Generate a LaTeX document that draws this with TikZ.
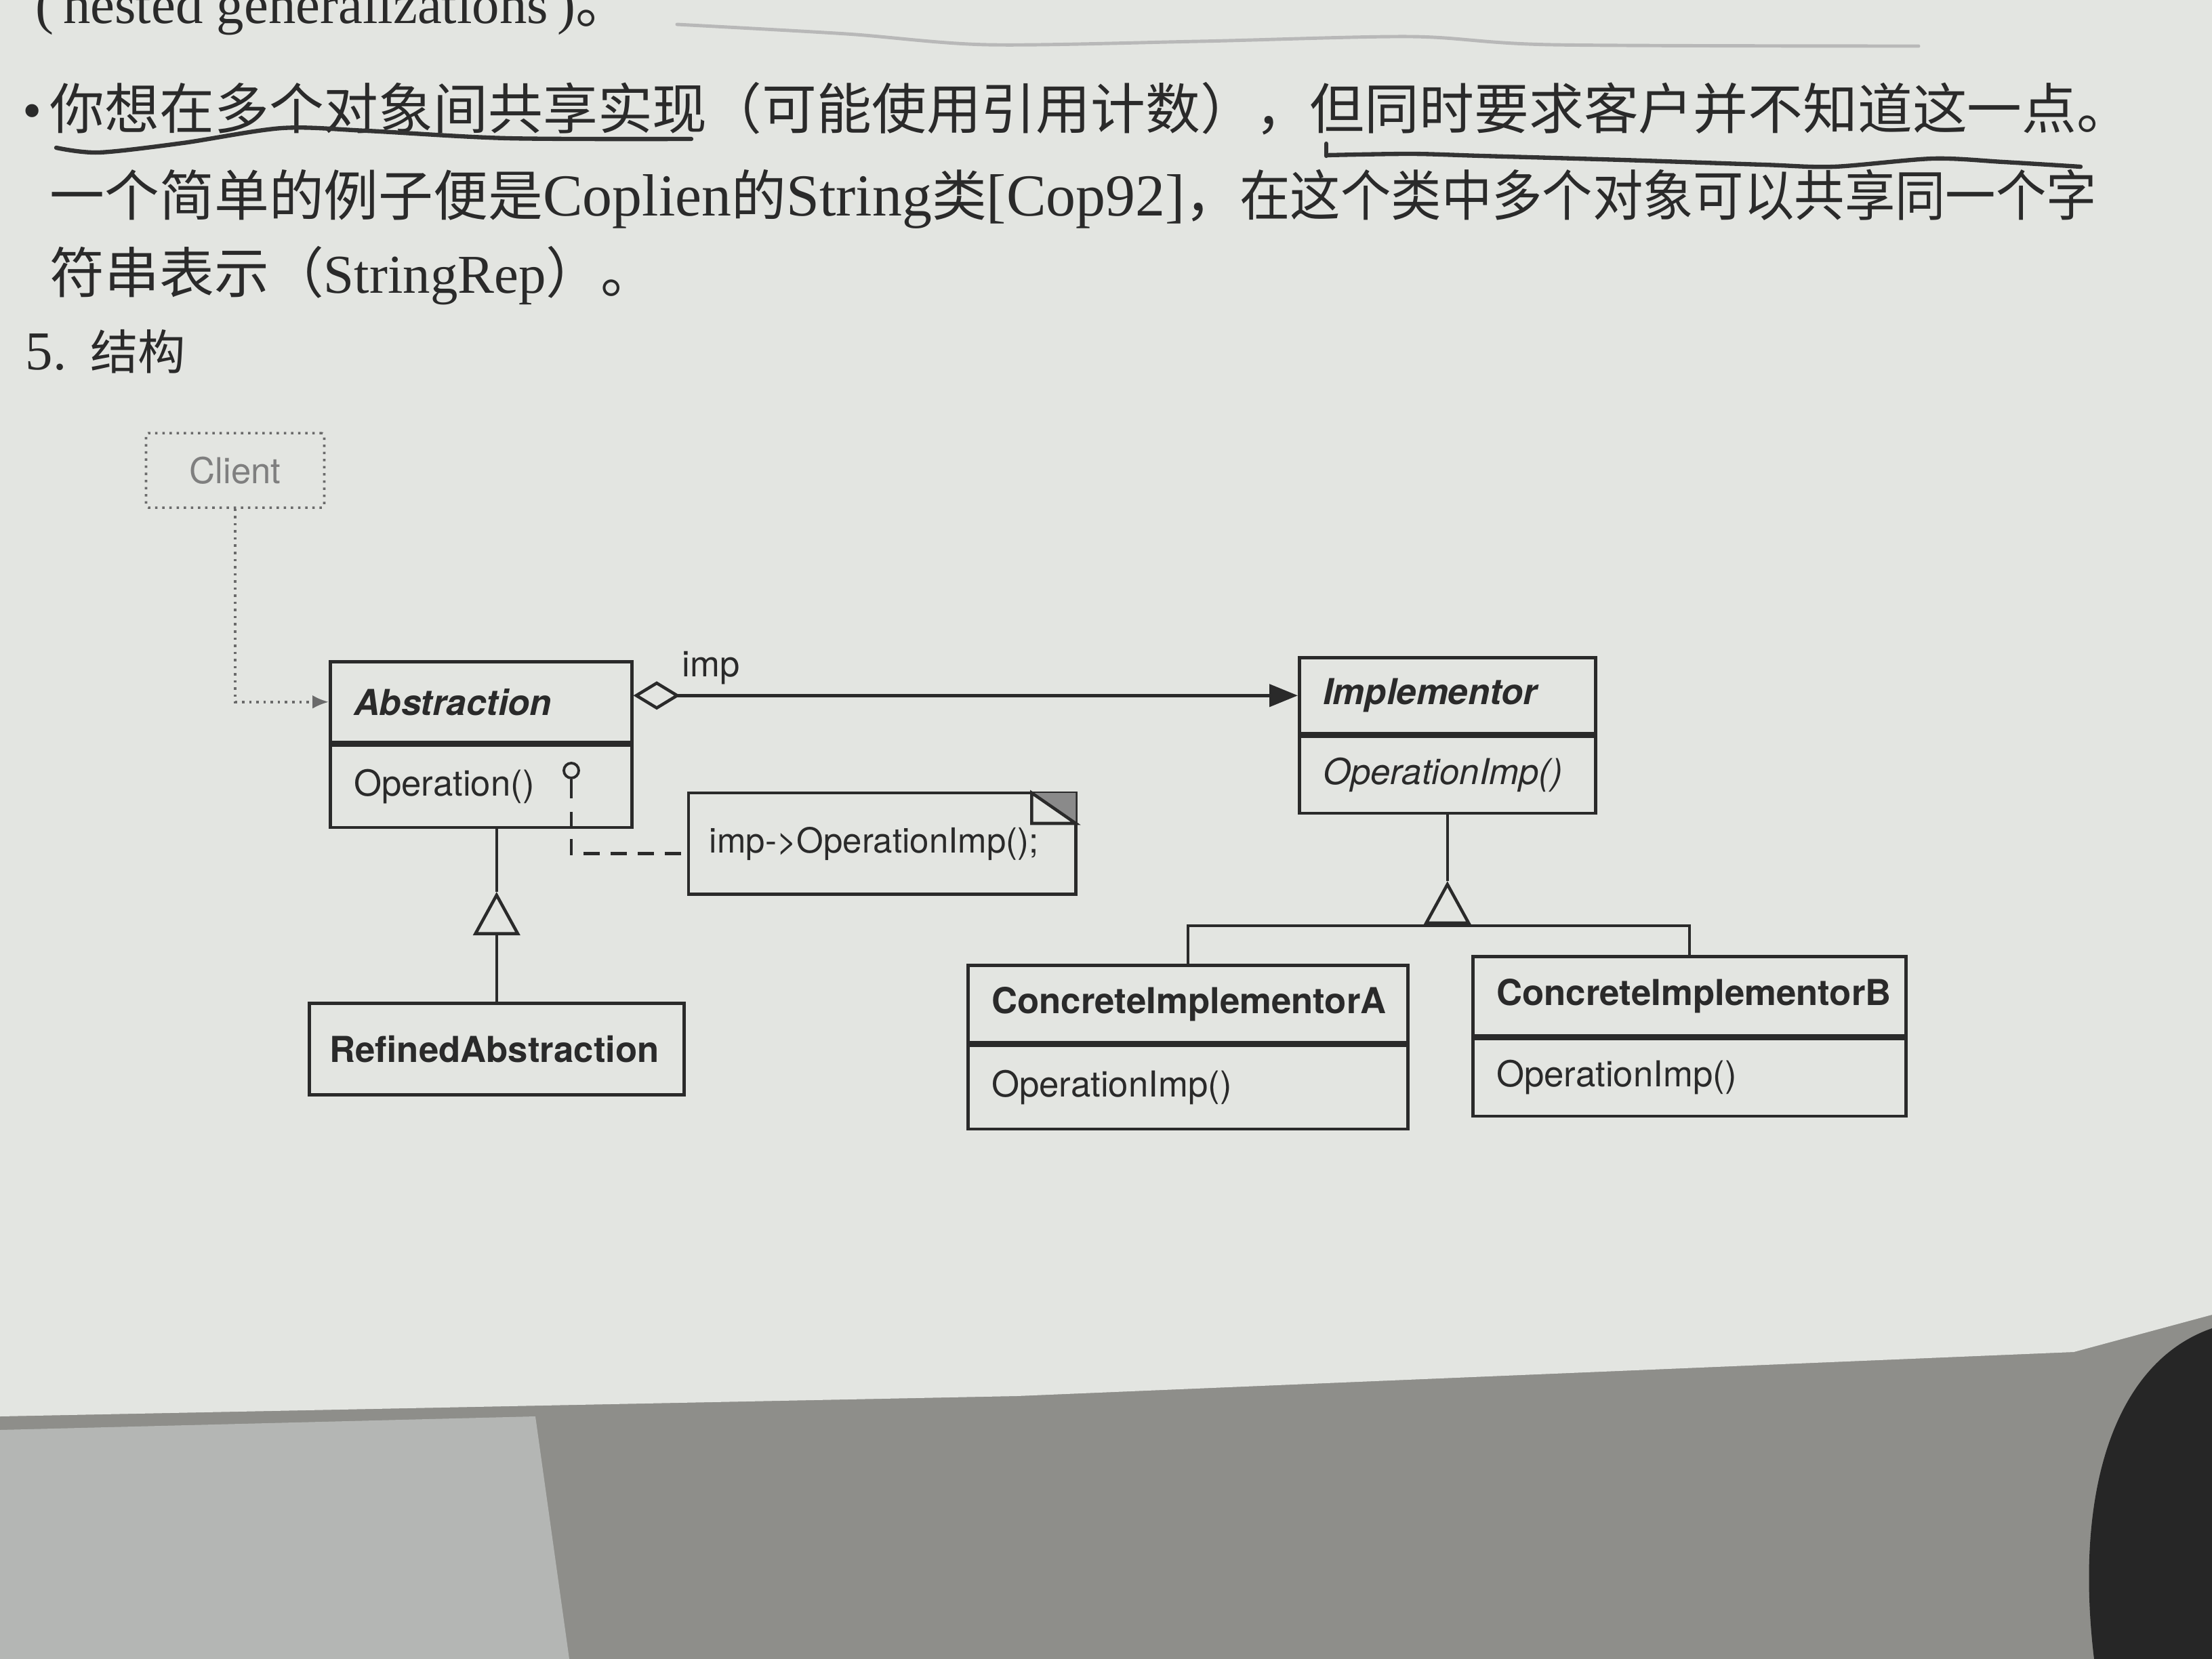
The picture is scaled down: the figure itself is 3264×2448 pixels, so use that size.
\documentclass[tikz,border=0pt]{standalone}
\usepackage{fontspec}
\setmainfont{Liberation Serif}
\setsansfont{TeX Gyre Heros}
\newfontfamily\cjk{Noto Sans CJK SC}
\usetikzlibrary{positioning,arrows.meta,calc}
\definecolor{paper}{HTML}{E3E5E1}
\definecolor{floorgray}{HTML}{8E8E8A}
\definecolor{baggray}{HTML}{B4B6B4}
\definecolor{ink}{HTML}{2A2A2A}
\definecolor{pen}{HTML}{333333}
\tikzset{
    bodytext/.style={inner sep=0pt, text=ink, font=\fontsize{23}{27}\selectfont},
    classhead/.style={rectangle, draw=ink, line width=1.3pt, inner xsep=3.5mm, inner ysep=0pt, align=left, text=ink, font=\sffamily\bfseries\fontsize{15}{18}\selectfont},
    classops/.style={rectangle, draw=ink, line width=1.3pt, inner xsep=3.5mm, inner ysep=0pt, align=left, text=ink, font=\sffamily\fontsize{15}{18}\selectfont},
    clientbox/.style={rectangle, draw=ink!70, dotted, line width=1pt, rounded corners=1pt, text=ink!60, font=\sffamily\fontsize{15}{18}\selectfont},
    notebox/.style={rectangle, inner xsep=3mm, align=left, text=ink, font=\sffamily\fontsize{14.5}{17}\selectfont},
    line/.style={draw=ink, line width=1.3pt},
    gen/.style={line, -{Triangle[open, length=6.4mm, width=6.9mm]}},
    assoc/.style={line, {Diamond[open, length=6.9mm, width=4.2mm]}-{Triangle[length=4.2mm, width=3.3mm]}},
    clientlink/.style={draw=ink!70, dotted, line width=1pt, -{Latex[length=2.4mm, width=2mm]}},
    notelink/.style={line, dash pattern=on 2.4mm off 1.6mm},
    penline/.style={draw=pen, line width=1.8pt, line cap=round, line join=round}
}

\begin{document}
\begin{tikzpicture}[x=0.1mm, y=-0.1mm]
\useasboundingbox (0,0) rectangle (3264,2448);
\clip (0,0) rectangle (3264,2448);

% ── Photo background ──
\fill[floorgray] (0,0) rectangle (3264,2448);
\fill[baggray] (0,2110) -- (790,2090) -- (840,2448) -- (0,2448) -- cycle;
\fill[black!85] (3090,2448) .. controls (3060,2200) and (3120,2010) .. (3264,1960) -- (3264,2448) -- cycle;
\fill[paper] (0,0) -- (3264,0) -- (3264,1940) -- (3060,1995) -- (1500,2060) -- (0,2090) -- cycle;

% ── Text above the diagram ──
\node[bodytext, anchor=base west] (l0) at (52,34) {(\,nested generalizations\,){\cjk 。}};
\node[bodytext, anchor=base west] (l1) at (73,190) {\cjk 你想在多个对象间共享实现（可能使用引用计数），但同时要求客户并不知道这一点。};
\node[bodytext, anchor=base east, xshift=-1mm] (bullet) at (l1.base west) {•};
\node[bodytext, anchor=base west] (l2) at (73,318) {{\cjk 一个简单的例子便是}{\fontsize{25}{29}\selectfont Coplien}{\cjk 的}{\fontsize{25}{29}\selectfont String}{\cjk 类}{\fontsize{25}{29}\selectfont [Cop92]}{\cjk ，}\scalebox{0.92}[1]{\cjk 在这个类中多个对象可以共享同一个字}};
\node[bodytext, anchor=base west] (l3) at (73,432) {{\cjk 符串表示（}StringRep{\cjk ）。}};
\node[bodytext, anchor=base west] (sec) at (37,545) {5.\hspace{3.5mm}{\cjk\fontsize{20}{24}\selectfont 结构}};

% ── Pen marks ──
\draw[penline] plot[smooth] coordinates {(83,218) (146,225) (270,211) (416,189) (541,193) (749,204) (1020,205)};
\draw[penline] (1957,212) -- (1957,230);
\draw[penline] plot[smooth] coordinates {(1957,229) (2082,227) (2186,230) (2394,236) (2602,243) (2706,246) (2852,234) (2956,239) (3070,246)};
\draw[penline, draw=pen!35, line width=1.4pt] plot[smooth] coordinates {(999,36) (1249,50) (1457,66) (1769,61) (2082,54) (2290,66) (2831,68)};

% ── Classes ──
\node[clientbox, minimum width=26.3mm, minimum height=11mm] (client) at (347,694) {Client};

\node[classhead, font=\sffamily\bfseries\itshape\fontsize{15}{18}\selectfont, anchor=north west, text width=37.5mm, minimum height=11.9mm] (abs) at (485,974) {Abstraction};
\node[classops, text width=37.5mm, minimum height=12.1mm, below=0pt of abs] (absops) {Operation()};

\node[classhead, font=\sffamily\bfseries\itshape\fontsize{15}{18}\selectfont, anchor=north west, text width=36.7mm, minimum height=11.2mm] (impl) at (1915,968) {Implementor};
\node[classops, font=\sffamily\itshape\fontsize{15}{18}\selectfont, text width=36.7mm, minimum height=11.3mm, below=0pt of impl] (implops) {OperationImp()};

\node[classhead, anchor=north west, inner xsep=3mm, text width=49.3mm, minimum height=13.5mm] (ref) at (454,1478) {RefinedAbstraction};

\node[classhead, anchor=north west, text width=57.9mm, minimum height=11.4mm] (conA) at (1426,1422) {ConcreteImplementorA};
\node[classops, text width=57.9mm, minimum height=12.3mm, below=0pt of conA] (conAops) {OperationImp()};

\node[classhead, anchor=north west, text width=56.9mm, minimum height=11.7mm] (conB) at (2171,1409) {ConcreteImplementorB};
\node[classops, text width=56.9mm, minimum height=11.4mm, below=0pt of conB] (conBops) {OperationImp()};

% ── Note ──
\node[notebox, anchor=north west, text width=51mm, minimum height=14.8mm] (note) at (1016,1170) {\mbox{imp->OperationImp();}};
\draw[line] (note.south west) -- (note.north west) -- (note.north east) -- (note.south east) -- cycle;
\fill[ink!55] ([xshift=-6.5mm]note.north east) -- (note.north east) -- ([yshift=-4.5mm]note.north east) -- cycle;
\draw[line, fill=paper] ([xshift=-6.5mm]note.north east) -- ([yshift=-4.5mm]note.north east) -- ([xshift=-6.5mm, yshift=-4.5mm]note.north east) -- cycle;

\node[circle, draw=ink, line width=1.1pt, minimum size=2.2mm, inner sep=0pt] (opcirc) at (843,1137) {};
\draw[line] (opcirc.south) -- ++(0,28) coordinate (stem);
\draw[notelink] ([yshift=-2mm]stem) |- ([yshift=-1.5mm]note.west);

% ── Relationships ──
\draw[clientlink] (client.south) |- (abs.west);
\draw[assoc] (abs.east |- impl.west) -- node[pos=0, anchor=base west, xshift=7mm, yshift=2.8mm, inner sep=0pt, text=ink, font=\sffamily\fontsize{15}{18}\selectfont] {imp} (impl.west);

\coordinate (absbase) at ($(ref.north)+(0,-98)$);
\draw[line] (ref.north) -- (absbase);
\draw[gen] (absbase) -- ++(0,-64) coordinate (absapex);
\draw[line] (absapex) -- (ref.north |- absops.south);

\coordinate (implbar) at ($(implops.south)+(0,164)$);
\draw[line] (conA.north) |- (conB.north |- implbar) -- (conB.north);
\draw[gen] (implbar) -- ++(0,-66) coordinate (implapex);
\draw[line] (implapex) -- (implops.south);

\end{tikzpicture}
\end{document}
